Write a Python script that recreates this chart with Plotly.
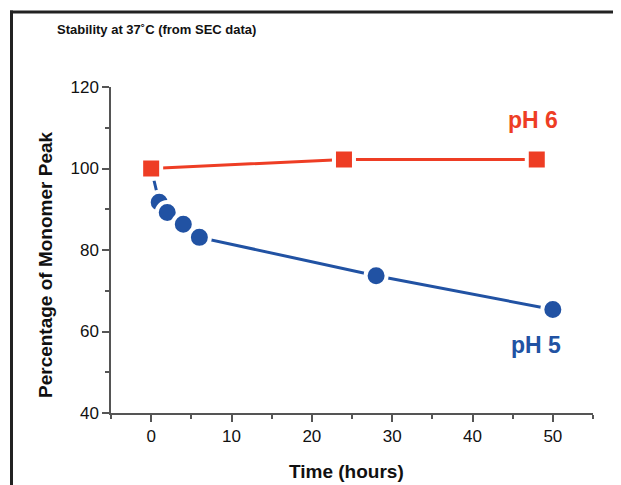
import plotly.graph_objects as go

# Data
ph6_time = [0, 24, 48]
ph6_pct = [100, 102.2, 102.2]
ph5_time = [0, 1, 2, 4, 6, 28, 50]
ph5_pct = [100, 91.7, 89.2, 86.3, 83.1, 73.7, 65.4]

RED = "#EE3D24"
BLUE = "#2152A3"
AX = "#555555"

fig = go.Figure()
fig.add_trace(go.Scatter(
    x=ph5_time, y=ph5_pct, mode="lines+markers", name="pH 5",
    line=dict(color=BLUE, width=3),
    marker=dict(symbol="circle", size=21, color=BLUE, line=dict(color="white", width=4)),
    showlegend=False, cliponaxis=False))
fig.add_trace(go.Scatter(
    x=ph6_time, y=ph6_pct, mode="lines+markers", name="pH 6",
    line=dict(color=RED, width=3),
    marker=dict(symbol="square", size=20, color=RED, line=dict(color="white", width=4)),
    showlegend=False, cliponaxis=False))

OFF = 8  # page body margin
W, H = 621 - OFF, 485 - OFF
L, R, T, B = 111 - OFF, 28, 87 - OFF, 72
pw, ph = W - L - R, H - T - B

def px(x):  # page pixel -> paper x
    return (x - OFF - L) / pw

def py(y):  # page pixel -> paper y
    return (H - B - (y - OFF)) / ph

fig.update_layout(
    width=W, height=H,
    margin=dict(l=L, r=R, t=T, b=B),
    paper_bgcolor="white", plot_bgcolor="white",
    font=dict(family="Liberation Sans, Arial, sans-serif", color="#111111"),
    xaxis=dict(range=[-5, 55], dtick=10, tick0=0, showgrid=False, zeroline=False,
               showline=True, linecolor=AX, linewidth=1.5,
               ticks="outside", ticklen=7, tickwidth=1.5, tickcolor=AX,
               tickfont=dict(size=17, color="#111111"),
               minor=dict(dtick=5, tick0=0, ticks="outside", ticklen=4, tickwidth=1.5, tickcolor=AX)),
    yaxis=dict(range=[40, 120], dtick=20, tick0=0, showgrid=False, zeroline=False,
               showline=True, linecolor=AX, linewidth=1.5,
               ticks="outside", ticklen=7, tickwidth=1.5, tickcolor=AX,
               tickfont=dict(size=17, color="#111111"),
               minor=dict(dtick=10, tick0=0, ticks="outside", ticklen=4, tickwidth=1.5, tickcolor=AX)),
    shapes=[
        dict(type="line", xref="paper", yref="paper", x0=px(11.5), x1=px(11.5), y0=py(10.5), y1=py(H + OFF + 4),
             line=dict(color="#222222", width=3)),
        dict(type="line", xref="paper", yref="paper", x0=px(10), x1=px(W + OFF + 4), y0=py(12), y1=py(12),
             line=dict(color="#222222", width=3)),
        dict(type="line", xref="paper", yref="paper", x0=px(104), x1=0, y0=0, y1=0,
             line=dict(color=AX, width=1.5)),
    ],
    annotations=[
        dict(text="Stability at 37˚C (from SEC data)", xref="paper", yref="paper",
             x=px(55), y=py(30), xanchor="left", yanchor="middle", showarrow=False,
             font=dict(size=13, color="#111111", weight="bold")),
        dict(text="Percentage of Monomer Peak", xref="paper", yref="paper",
             x=px(45), y=py(265), xanchor="center", yanchor="middle", textangle=-90, showarrow=False,
             font=dict(size=19, color="#111111", weight="bold")),
        dict(text="Time (hours)", xref="paper", yref="paper",
             x=px(346), y=py(471), xanchor="center", yanchor="middle", showarrow=False,
             font=dict(size=19, color="#111111", weight="bold")),
        dict(text="pH 6", xref="x", yref="y", x=47.5, y=111.8, showarrow=False,
             xanchor="center", yanchor="middle", font=dict(size=23, color=RED, weight="bold")),
        dict(text="pH 5", xref="x", yref="y", x=47.9, y=56.6, showarrow=False,
             xanchor="center", yanchor="middle", font=dict(size=23, color=BLUE, weight="bold")),
    ],
)

fig.write_html("out.html")
